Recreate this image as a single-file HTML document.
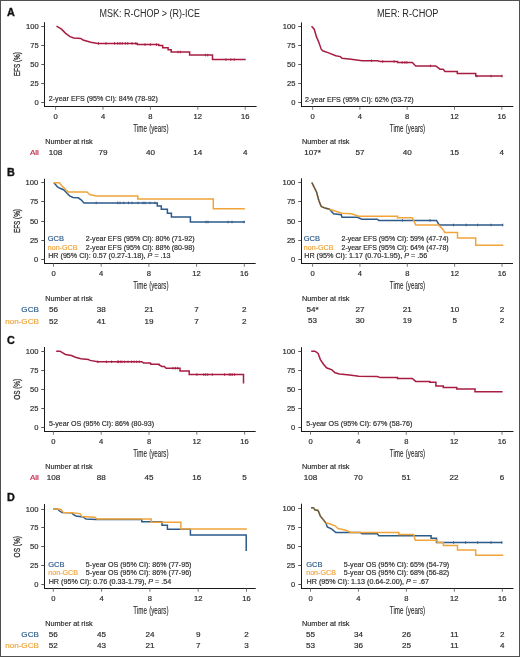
<!DOCTYPE html>
<html><head><meta charset="utf-8"><style>
html,body{margin:0;padding:0;background:#fff;}
body{width:520px;height:657px;overflow:hidden;position:relative;}
svg{position:absolute;left:0;top:0;font-family:"Liberation Sans", sans-serif;will-change:transform;}
</style></head><body>
<svg width="520" height="657" viewBox="0 0 520 657">
<rect x="0.5" y="0.5" width="519" height="656" fill="#fff" stroke="#505050" stroke-width="1"/>
<line x1="44.5" y1="22.2" x2="44.5" y2="107.0" stroke="#1a1a1a" stroke-width="1"/>
<line x1="41.3" y1="26.5" x2="44.5" y2="26.5" stroke="#444" stroke-width="0.9"/>
<text x="38.7" y="28.9" font-size="8.0" fill="#2a2a2a" text-anchor="end" textLength="12.7" lengthAdjust="spacingAndGlyphs" stroke="#2a2a2a" stroke-width="0.18">100</text>
<line x1="41.3" y1="45.5" x2="44.5" y2="45.5" stroke="#444" stroke-width="0.9"/>
<text x="38.7" y="47.9" font-size="8.0" fill="#2a2a2a" text-anchor="end" textLength="8.4" lengthAdjust="spacingAndGlyphs" stroke="#2a2a2a" stroke-width="0.18">75</text>
<line x1="41.3" y1="64.5" x2="44.5" y2="64.5" stroke="#444" stroke-width="0.9"/>
<text x="38.7" y="66.9" font-size="8.0" fill="#2a2a2a" text-anchor="end" textLength="8.4" lengthAdjust="spacingAndGlyphs" stroke="#2a2a2a" stroke-width="0.18">50</text>
<line x1="41.3" y1="83.5" x2="44.5" y2="83.5" stroke="#444" stroke-width="0.9"/>
<text x="38.7" y="85.9" font-size="8.0" fill="#2a2a2a" text-anchor="end" textLength="8.4" lengthAdjust="spacingAndGlyphs" stroke="#2a2a2a" stroke-width="0.18">25</text>
<line x1="41.3" y1="102.5" x2="44.5" y2="102.5" stroke="#444" stroke-width="0.9"/>
<text x="38.7" y="104.9" font-size="8.0" fill="#2a2a2a" text-anchor="end" textLength="4.2" lengthAdjust="spacingAndGlyphs" stroke="#2a2a2a" stroke-width="0.18">0</text>
<line x1="44.0" y1="106.5" x2="256.6" y2="106.5" stroke="#1a1a1a" stroke-width="1"/>
<line x1="55.6" y1="106.5" x2="55.6" y2="109.7" stroke="#666" stroke-width="0.9"/>
<text x="55.6" y="119.4" font-size="7.6" fill="#2a2a2a" text-anchor="middle" stroke="#2a2a2a" stroke-width="0.18">0</text>
<line x1="103.0" y1="106.5" x2="103.0" y2="109.7" stroke="#666" stroke-width="0.9"/>
<text x="103.0" y="119.4" font-size="7.6" fill="#2a2a2a" text-anchor="middle" stroke="#2a2a2a" stroke-width="0.18">4</text>
<line x1="150.4" y1="106.5" x2="150.4" y2="109.7" stroke="#666" stroke-width="0.9"/>
<text x="150.4" y="119.4" font-size="7.6" fill="#2a2a2a" text-anchor="middle" stroke="#2a2a2a" stroke-width="0.18">8</text>
<line x1="197.79999999999998" y1="106.5" x2="197.79999999999998" y2="109.7" stroke="#666" stroke-width="0.9"/>
<text x="197.79999999999998" y="119.4" font-size="7.6" fill="#2a2a2a" text-anchor="middle" stroke="#2a2a2a" stroke-width="0.18">12</text>
<line x1="245.2" y1="106.5" x2="245.2" y2="109.7" stroke="#666" stroke-width="0.9"/>
<text x="245.2" y="119.4" font-size="7.6" fill="#2a2a2a" text-anchor="middle" stroke="#2a2a2a" stroke-width="0.18">16</text>
<text x="150.9" y="132.1" font-size="10.0" fill="#2a2a2a" text-anchor="middle" textLength="35.3" lengthAdjust="spacingAndGlyphs" stroke="#2a2a2a" stroke-width="0.12" word-spacing="1">Time (years)</text>
<line x1="301.5" y1="22.4" x2="301.5" y2="107.0" stroke="#1a1a1a" stroke-width="1"/>
<line x1="298.3" y1="26.5" x2="301.5" y2="26.5" stroke="#444" stroke-width="0.9"/>
<text x="295.5" y="28.9" font-size="8.0" fill="#2a2a2a" text-anchor="end" textLength="12.7" lengthAdjust="spacingAndGlyphs" stroke="#2a2a2a" stroke-width="0.18">100</text>
<line x1="298.3" y1="45.5" x2="301.5" y2="45.5" stroke="#444" stroke-width="0.9"/>
<text x="295.5" y="47.9" font-size="8.0" fill="#2a2a2a" text-anchor="end" textLength="8.4" lengthAdjust="spacingAndGlyphs" stroke="#2a2a2a" stroke-width="0.18">75</text>
<line x1="298.3" y1="64.5" x2="301.5" y2="64.5" stroke="#444" stroke-width="0.9"/>
<text x="295.5" y="66.9" font-size="8.0" fill="#2a2a2a" text-anchor="end" textLength="8.4" lengthAdjust="spacingAndGlyphs" stroke="#2a2a2a" stroke-width="0.18">50</text>
<line x1="298.3" y1="83.5" x2="301.5" y2="83.5" stroke="#444" stroke-width="0.9"/>
<text x="295.5" y="85.9" font-size="8.0" fill="#2a2a2a" text-anchor="end" textLength="8.4" lengthAdjust="spacingAndGlyphs" stroke="#2a2a2a" stroke-width="0.18">25</text>
<line x1="298.3" y1="102.5" x2="301.5" y2="102.5" stroke="#444" stroke-width="0.9"/>
<text x="295.5" y="104.9" font-size="8.0" fill="#2a2a2a" text-anchor="end" textLength="4.2" lengthAdjust="spacingAndGlyphs" stroke="#2a2a2a" stroke-width="0.18">0</text>
<line x1="301.0" y1="106.5" x2="513.3" y2="106.5" stroke="#1a1a1a" stroke-width="1"/>
<line x1="312.6" y1="106.5" x2="312.6" y2="109.7" stroke="#666" stroke-width="0.9"/>
<text x="312.6" y="119.4" font-size="7.6" fill="#2a2a2a" text-anchor="middle" stroke="#2a2a2a" stroke-width="0.18">0</text>
<line x1="359.90000000000003" y1="106.5" x2="359.90000000000003" y2="109.7" stroke="#666" stroke-width="0.9"/>
<text x="359.90000000000003" y="119.4" font-size="7.6" fill="#2a2a2a" text-anchor="middle" stroke="#2a2a2a" stroke-width="0.18">4</text>
<line x1="407.20000000000005" y1="106.5" x2="407.20000000000005" y2="109.7" stroke="#666" stroke-width="0.9"/>
<text x="407.20000000000005" y="119.4" font-size="7.6" fill="#2a2a2a" text-anchor="middle" stroke="#2a2a2a" stroke-width="0.18">8</text>
<line x1="454.5" y1="106.5" x2="454.5" y2="109.7" stroke="#666" stroke-width="0.9"/>
<text x="454.5" y="119.4" font-size="7.6" fill="#2a2a2a" text-anchor="middle" stroke="#2a2a2a" stroke-width="0.18">12</text>
<line x1="501.8" y1="106.5" x2="501.8" y2="109.7" stroke="#666" stroke-width="0.9"/>
<text x="501.8" y="119.4" font-size="7.6" fill="#2a2a2a" text-anchor="middle" stroke="#2a2a2a" stroke-width="0.18">16</text>
<text x="407.5" y="132.20000000000002" font-size="10.0" fill="#2a2a2a" text-anchor="middle" textLength="35.3" lengthAdjust="spacingAndGlyphs" stroke="#2a2a2a" stroke-width="0.12" word-spacing="1">Time (years)</text>
<line x1="44.5" y1="178.75" x2="44.5" y2="264.0" stroke="#1a1a1a" stroke-width="1"/>
<line x1="41.3" y1="182.5" x2="44.5" y2="182.5" stroke="#444" stroke-width="0.9"/>
<text x="38.3" y="184.9" font-size="8.0" fill="#2a2a2a" text-anchor="end" textLength="12.7" lengthAdjust="spacingAndGlyphs" stroke="#2a2a2a" stroke-width="0.18">100</text>
<line x1="41.3" y1="201.5" x2="44.5" y2="201.5" stroke="#444" stroke-width="0.9"/>
<text x="38.3" y="203.9" font-size="8.0" fill="#2a2a2a" text-anchor="end" textLength="8.4" lengthAdjust="spacingAndGlyphs" stroke="#2a2a2a" stroke-width="0.18">75</text>
<line x1="41.3" y1="221.5" x2="44.5" y2="221.5" stroke="#444" stroke-width="0.9"/>
<text x="38.3" y="223.9" font-size="8.0" fill="#2a2a2a" text-anchor="end" textLength="8.4" lengthAdjust="spacingAndGlyphs" stroke="#2a2a2a" stroke-width="0.18">50</text>
<line x1="41.3" y1="240.5" x2="44.5" y2="240.5" stroke="#444" stroke-width="0.9"/>
<text x="38.3" y="242.9" font-size="8.0" fill="#2a2a2a" text-anchor="end" textLength="8.4" lengthAdjust="spacingAndGlyphs" stroke="#2a2a2a" stroke-width="0.18">25</text>
<line x1="41.3" y1="259.5" x2="44.5" y2="259.5" stroke="#444" stroke-width="0.9"/>
<text x="38.3" y="261.9" font-size="8.0" fill="#2a2a2a" text-anchor="end" textLength="4.2" lengthAdjust="spacingAndGlyphs" stroke="#2a2a2a" stroke-width="0.18">0</text>
<line x1="44.0" y1="263.5" x2="255.7" y2="263.5" stroke="#1a1a1a" stroke-width="1"/>
<line x1="53.5" y1="263.5" x2="53.5" y2="266.7" stroke="#666" stroke-width="0.9"/>
<text x="53.5" y="276.4" font-size="7.6" fill="#2a2a2a" text-anchor="middle" stroke="#2a2a2a" stroke-width="0.18">0</text>
<line x1="101.2" y1="263.5" x2="101.2" y2="266.7" stroke="#666" stroke-width="0.9"/>
<text x="101.2" y="276.4" font-size="7.6" fill="#2a2a2a" text-anchor="middle" stroke="#2a2a2a" stroke-width="0.18">4</text>
<line x1="148.9" y1="263.5" x2="148.9" y2="266.7" stroke="#666" stroke-width="0.9"/>
<text x="148.9" y="276.4" font-size="7.6" fill="#2a2a2a" text-anchor="middle" stroke="#2a2a2a" stroke-width="0.18">8</text>
<line x1="196.60000000000002" y1="263.5" x2="196.60000000000002" y2="266.7" stroke="#666" stroke-width="0.9"/>
<text x="196.60000000000002" y="276.4" font-size="7.6" fill="#2a2a2a" text-anchor="middle" stroke="#2a2a2a" stroke-width="0.18">12</text>
<line x1="244.3" y1="263.5" x2="244.3" y2="266.7" stroke="#666" stroke-width="0.9"/>
<text x="244.3" y="276.4" font-size="7.6" fill="#2a2a2a" text-anchor="middle" stroke="#2a2a2a" stroke-width="0.18">16</text>
<text x="150.9" y="289.2" font-size="10.0" fill="#2a2a2a" text-anchor="middle" textLength="35.3" lengthAdjust="spacingAndGlyphs" stroke="#2a2a2a" stroke-width="0.12" word-spacing="1">Time (years)</text>
<line x1="301.5" y1="178.3" x2="301.5" y2="264.0" stroke="#1a1a1a" stroke-width="1"/>
<line x1="298.3" y1="182.5" x2="301.5" y2="182.5" stroke="#444" stroke-width="0.9"/>
<text x="295.3" y="184.9" font-size="8.0" fill="#2a2a2a" text-anchor="end" textLength="12.7" lengthAdjust="spacingAndGlyphs" stroke="#2a2a2a" stroke-width="0.18">100</text>
<line x1="298.3" y1="201.5" x2="301.5" y2="201.5" stroke="#444" stroke-width="0.9"/>
<text x="295.3" y="203.9" font-size="8.0" fill="#2a2a2a" text-anchor="end" textLength="8.4" lengthAdjust="spacingAndGlyphs" stroke="#2a2a2a" stroke-width="0.18">75</text>
<line x1="298.3" y1="221.5" x2="301.5" y2="221.5" stroke="#444" stroke-width="0.9"/>
<text x="295.3" y="223.9" font-size="8.0" fill="#2a2a2a" text-anchor="end" textLength="8.4" lengthAdjust="spacingAndGlyphs" stroke="#2a2a2a" stroke-width="0.18">50</text>
<line x1="298.3" y1="240.5" x2="301.5" y2="240.5" stroke="#444" stroke-width="0.9"/>
<text x="295.3" y="242.9" font-size="8.0" fill="#2a2a2a" text-anchor="end" textLength="8.4" lengthAdjust="spacingAndGlyphs" stroke="#2a2a2a" stroke-width="0.18">25</text>
<line x1="298.3" y1="259.5" x2="301.5" y2="259.5" stroke="#444" stroke-width="0.9"/>
<text x="295.3" y="261.9" font-size="8.0" fill="#2a2a2a" text-anchor="end" textLength="4.2" lengthAdjust="spacingAndGlyphs" stroke="#2a2a2a" stroke-width="0.18">0</text>
<line x1="301.0" y1="263.5" x2="513" y2="263.5" stroke="#1a1a1a" stroke-width="1"/>
<line x1="312.6" y1="263.5" x2="312.6" y2="266.7" stroke="#666" stroke-width="0.9"/>
<text x="312.6" y="276.4" font-size="7.6" fill="#2a2a2a" text-anchor="middle" stroke="#2a2a2a" stroke-width="0.18">0</text>
<line x1="359.95000000000005" y1="263.5" x2="359.95000000000005" y2="266.7" stroke="#666" stroke-width="0.9"/>
<text x="359.95000000000005" y="276.4" font-size="7.6" fill="#2a2a2a" text-anchor="middle" stroke="#2a2a2a" stroke-width="0.18">4</text>
<line x1="407.3" y1="263.5" x2="407.3" y2="266.7" stroke="#666" stroke-width="0.9"/>
<text x="407.3" y="276.4" font-size="7.6" fill="#2a2a2a" text-anchor="middle" stroke="#2a2a2a" stroke-width="0.18">8</text>
<line x1="454.65" y1="263.5" x2="454.65" y2="266.7" stroke="#666" stroke-width="0.9"/>
<text x="454.65" y="276.4" font-size="7.6" fill="#2a2a2a" text-anchor="middle" stroke="#2a2a2a" stroke-width="0.18">12</text>
<line x1="502.0" y1="263.5" x2="502.0" y2="266.7" stroke="#666" stroke-width="0.9"/>
<text x="502.0" y="276.4" font-size="7.6" fill="#2a2a2a" text-anchor="middle" stroke="#2a2a2a" stroke-width="0.18">16</text>
<text x="407.5" y="289.1" font-size="10.0" fill="#2a2a2a" text-anchor="middle" textLength="35.3" lengthAdjust="spacingAndGlyphs" stroke="#2a2a2a" stroke-width="0.12" word-spacing="1">Time (years)</text>
<line x1="44.5" y1="347" x2="44.5" y2="432.0" stroke="#1a1a1a" stroke-width="1"/>
<line x1="41.3" y1="351.5" x2="44.5" y2="351.5" stroke="#444" stroke-width="0.9"/>
<text x="38.5" y="353.9" font-size="8.0" fill="#2a2a2a" text-anchor="end" textLength="12.7" lengthAdjust="spacingAndGlyphs" stroke="#2a2a2a" stroke-width="0.18">100</text>
<line x1="41.3" y1="370.5" x2="44.5" y2="370.5" stroke="#444" stroke-width="0.9"/>
<text x="38.5" y="372.9" font-size="8.0" fill="#2a2a2a" text-anchor="end" textLength="8.4" lengthAdjust="spacingAndGlyphs" stroke="#2a2a2a" stroke-width="0.18">75</text>
<line x1="41.3" y1="389.5" x2="44.5" y2="389.5" stroke="#444" stroke-width="0.9"/>
<text x="38.5" y="391.9" font-size="8.0" fill="#2a2a2a" text-anchor="end" textLength="8.4" lengthAdjust="spacingAndGlyphs" stroke="#2a2a2a" stroke-width="0.18">50</text>
<line x1="41.3" y1="408.5" x2="44.5" y2="408.5" stroke="#444" stroke-width="0.9"/>
<text x="38.5" y="410.9" font-size="8.0" fill="#2a2a2a" text-anchor="end" textLength="8.4" lengthAdjust="spacingAndGlyphs" stroke="#2a2a2a" stroke-width="0.18">25</text>
<line x1="41.3" y1="427.5" x2="44.5" y2="427.5" stroke="#444" stroke-width="0.9"/>
<text x="38.5" y="429.9" font-size="8.0" fill="#2a2a2a" text-anchor="end" textLength="4.2" lengthAdjust="spacingAndGlyphs" stroke="#2a2a2a" stroke-width="0.18">0</text>
<line x1="44.0" y1="431.5" x2="255.7" y2="431.5" stroke="#1a1a1a" stroke-width="1"/>
<line x1="53.4" y1="431.5" x2="53.4" y2="434.7" stroke="#666" stroke-width="0.9"/>
<text x="53.4" y="444.4" font-size="7.6" fill="#2a2a2a" text-anchor="middle" stroke="#2a2a2a" stroke-width="0.18">0</text>
<line x1="101.19999999999999" y1="431.5" x2="101.19999999999999" y2="434.7" stroke="#666" stroke-width="0.9"/>
<text x="101.19999999999999" y="444.4" font-size="7.6" fill="#2a2a2a" text-anchor="middle" stroke="#2a2a2a" stroke-width="0.18">4</text>
<line x1="149.0" y1="431.5" x2="149.0" y2="434.7" stroke="#666" stroke-width="0.9"/>
<text x="149.0" y="444.4" font-size="7.6" fill="#2a2a2a" text-anchor="middle" stroke="#2a2a2a" stroke-width="0.18">8</text>
<line x1="196.79999999999998" y1="431.5" x2="196.79999999999998" y2="434.7" stroke="#666" stroke-width="0.9"/>
<text x="196.79999999999998" y="444.4" font-size="7.6" fill="#2a2a2a" text-anchor="middle" stroke="#2a2a2a" stroke-width="0.18">12</text>
<line x1="244.6" y1="431.5" x2="244.6" y2="434.7" stroke="#666" stroke-width="0.9"/>
<text x="244.6" y="444.4" font-size="7.6" fill="#2a2a2a" text-anchor="middle" stroke="#2a2a2a" stroke-width="0.18">16</text>
<text x="150.9" y="457.1" font-size="10.0" fill="#2a2a2a" text-anchor="middle" textLength="35.3" lengthAdjust="spacingAndGlyphs" stroke="#2a2a2a" stroke-width="0.12" word-spacing="1">Time (years)</text>
<line x1="301.5" y1="347.2" x2="301.5" y2="432.0" stroke="#1a1a1a" stroke-width="1"/>
<line x1="298.3" y1="351.5" x2="301.5" y2="351.5" stroke="#444" stroke-width="0.9"/>
<text x="295.3" y="353.9" font-size="8.0" fill="#2a2a2a" text-anchor="end" textLength="12.7" lengthAdjust="spacingAndGlyphs" stroke="#2a2a2a" stroke-width="0.18">100</text>
<line x1="298.3" y1="370.5" x2="301.5" y2="370.5" stroke="#444" stroke-width="0.9"/>
<text x="295.3" y="372.9" font-size="8.0" fill="#2a2a2a" text-anchor="end" textLength="8.4" lengthAdjust="spacingAndGlyphs" stroke="#2a2a2a" stroke-width="0.18">75</text>
<line x1="298.3" y1="389.5" x2="301.5" y2="389.5" stroke="#444" stroke-width="0.9"/>
<text x="295.3" y="391.9" font-size="8.0" fill="#2a2a2a" text-anchor="end" textLength="8.4" lengthAdjust="spacingAndGlyphs" stroke="#2a2a2a" stroke-width="0.18">50</text>
<line x1="298.3" y1="408.5" x2="301.5" y2="408.5" stroke="#444" stroke-width="0.9"/>
<text x="295.3" y="410.9" font-size="8.0" fill="#2a2a2a" text-anchor="end" textLength="8.4" lengthAdjust="spacingAndGlyphs" stroke="#2a2a2a" stroke-width="0.18">25</text>
<line x1="298.3" y1="427.5" x2="301.5" y2="427.5" stroke="#444" stroke-width="0.9"/>
<text x="295.3" y="429.9" font-size="8.0" fill="#2a2a2a" text-anchor="end" textLength="4.2" lengthAdjust="spacingAndGlyphs" stroke="#2a2a2a" stroke-width="0.18">0</text>
<line x1="301.0" y1="431.5" x2="513.5" y2="431.5" stroke="#1a1a1a" stroke-width="1"/>
<line x1="310.5" y1="431.5" x2="310.5" y2="434.7" stroke="#666" stroke-width="0.9"/>
<text x="310.5" y="444.4" font-size="7.6" fill="#2a2a2a" text-anchor="middle" stroke="#2a2a2a" stroke-width="0.18">0</text>
<line x1="358.375" y1="431.5" x2="358.375" y2="434.7" stroke="#666" stroke-width="0.9"/>
<text x="358.375" y="444.4" font-size="7.6" fill="#2a2a2a" text-anchor="middle" stroke="#2a2a2a" stroke-width="0.18">4</text>
<line x1="406.25" y1="431.5" x2="406.25" y2="434.7" stroke="#666" stroke-width="0.9"/>
<text x="406.25" y="444.4" font-size="7.6" fill="#2a2a2a" text-anchor="middle" stroke="#2a2a2a" stroke-width="0.18">8</text>
<line x1="454.125" y1="431.5" x2="454.125" y2="434.7" stroke="#666" stroke-width="0.9"/>
<text x="454.125" y="444.4" font-size="7.6" fill="#2a2a2a" text-anchor="middle" stroke="#2a2a2a" stroke-width="0.18">12</text>
<line x1="502.0" y1="431.5" x2="502.0" y2="434.7" stroke="#666" stroke-width="0.9"/>
<text x="502.0" y="444.4" font-size="7.6" fill="#2a2a2a" text-anchor="middle" stroke="#2a2a2a" stroke-width="0.18">16</text>
<text x="407.5" y="457.1" font-size="10.0" fill="#2a2a2a" text-anchor="middle" textLength="35.3" lengthAdjust="spacingAndGlyphs" stroke="#2a2a2a" stroke-width="0.12" word-spacing="1">Time (years)</text>
<line x1="44.5" y1="504" x2="44.5" y2="589.0" stroke="#1a1a1a" stroke-width="1"/>
<line x1="41.3" y1="509.5" x2="44.5" y2="509.5" stroke="#444" stroke-width="0.9"/>
<text x="38.5" y="511.9" font-size="8.0" fill="#2a2a2a" text-anchor="end" textLength="12.7" lengthAdjust="spacingAndGlyphs" stroke="#2a2a2a" stroke-width="0.18">100</text>
<line x1="41.3" y1="527.5" x2="44.5" y2="527.5" stroke="#444" stroke-width="0.9"/>
<text x="38.5" y="529.9" font-size="8.0" fill="#2a2a2a" text-anchor="end" textLength="8.4" lengthAdjust="spacingAndGlyphs" stroke="#2a2a2a" stroke-width="0.18">75</text>
<line x1="41.3" y1="546.5" x2="44.5" y2="546.5" stroke="#444" stroke-width="0.9"/>
<text x="38.5" y="548.9" font-size="8.0" fill="#2a2a2a" text-anchor="end" textLength="8.4" lengthAdjust="spacingAndGlyphs" stroke="#2a2a2a" stroke-width="0.18">50</text>
<line x1="41.3" y1="565.5" x2="44.5" y2="565.5" stroke="#444" stroke-width="0.9"/>
<text x="38.5" y="567.9" font-size="8.0" fill="#2a2a2a" text-anchor="end" textLength="8.4" lengthAdjust="spacingAndGlyphs" stroke="#2a2a2a" stroke-width="0.18">25</text>
<line x1="41.3" y1="584.5" x2="44.5" y2="584.5" stroke="#444" stroke-width="0.9"/>
<text x="38.5" y="586.9" font-size="8.0" fill="#2a2a2a" text-anchor="end" textLength="4.2" lengthAdjust="spacingAndGlyphs" stroke="#2a2a2a" stroke-width="0.18">0</text>
<line x1="44.0" y1="588.5" x2="255.7" y2="588.5" stroke="#1a1a1a" stroke-width="1"/>
<line x1="53.3" y1="588.5" x2="53.3" y2="591.7" stroke="#666" stroke-width="0.9"/>
<text x="53.3" y="601.4" font-size="7.6" fill="#2a2a2a" text-anchor="middle" stroke="#2a2a2a" stroke-width="0.18">0</text>
<line x1="101.6" y1="588.5" x2="101.6" y2="591.7" stroke="#666" stroke-width="0.9"/>
<text x="101.6" y="601.4" font-size="7.6" fill="#2a2a2a" text-anchor="middle" stroke="#2a2a2a" stroke-width="0.18">4</text>
<line x1="149.89999999999998" y1="588.5" x2="149.89999999999998" y2="591.7" stroke="#666" stroke-width="0.9"/>
<text x="149.89999999999998" y="601.4" font-size="7.6" fill="#2a2a2a" text-anchor="middle" stroke="#2a2a2a" stroke-width="0.18">8</text>
<line x1="198.2" y1="588.5" x2="198.2" y2="591.7" stroke="#666" stroke-width="0.9"/>
<text x="198.2" y="601.4" font-size="7.6" fill="#2a2a2a" text-anchor="middle" stroke="#2a2a2a" stroke-width="0.18">12</text>
<line x1="246.5" y1="588.5" x2="246.5" y2="591.7" stroke="#666" stroke-width="0.9"/>
<text x="246.5" y="601.4" font-size="7.6" fill="#2a2a2a" text-anchor="middle" stroke="#2a2a2a" stroke-width="0.18">16</text>
<text x="150.9" y="614.0" font-size="10.0" fill="#2a2a2a" text-anchor="middle" textLength="35.3" lengthAdjust="spacingAndGlyphs" stroke="#2a2a2a" stroke-width="0.12" word-spacing="1">Time (years)</text>
<line x1="301.5" y1="503.7" x2="301.5" y2="589.0" stroke="#1a1a1a" stroke-width="1"/>
<line x1="298.3" y1="508.5" x2="301.5" y2="508.5" stroke="#444" stroke-width="0.9"/>
<text x="295.2" y="510.9" font-size="8.0" fill="#2a2a2a" text-anchor="end" textLength="12.7" lengthAdjust="spacingAndGlyphs" stroke="#2a2a2a" stroke-width="0.18">100</text>
<line x1="298.3" y1="527.5" x2="301.5" y2="527.5" stroke="#444" stroke-width="0.9"/>
<text x="295.2" y="529.9" font-size="8.0" fill="#2a2a2a" text-anchor="end" textLength="8.4" lengthAdjust="spacingAndGlyphs" stroke="#2a2a2a" stroke-width="0.18">75</text>
<line x1="298.3" y1="546.5" x2="301.5" y2="546.5" stroke="#444" stroke-width="0.9"/>
<text x="295.2" y="548.9" font-size="8.0" fill="#2a2a2a" text-anchor="end" textLength="8.4" lengthAdjust="spacingAndGlyphs" stroke="#2a2a2a" stroke-width="0.18">50</text>
<line x1="298.3" y1="565.5" x2="301.5" y2="565.5" stroke="#444" stroke-width="0.9"/>
<text x="295.2" y="567.9" font-size="8.0" fill="#2a2a2a" text-anchor="end" textLength="8.4" lengthAdjust="spacingAndGlyphs" stroke="#2a2a2a" stroke-width="0.18">25</text>
<line x1="298.3" y1="584.5" x2="301.5" y2="584.5" stroke="#444" stroke-width="0.9"/>
<text x="295.2" y="586.9" font-size="8.0" fill="#2a2a2a" text-anchor="end" textLength="4.2" lengthAdjust="spacingAndGlyphs" stroke="#2a2a2a" stroke-width="0.18">0</text>
<line x1="301.0" y1="588.5" x2="513.5" y2="588.5" stroke="#1a1a1a" stroke-width="1"/>
<line x1="310.5" y1="588.5" x2="310.5" y2="591.7" stroke="#666" stroke-width="0.9"/>
<text x="310.5" y="601.4" font-size="7.6" fill="#2a2a2a" text-anchor="middle" stroke="#2a2a2a" stroke-width="0.18">0</text>
<line x1="358.45" y1="588.5" x2="358.45" y2="591.7" stroke="#666" stroke-width="0.9"/>
<text x="358.45" y="601.4" font-size="7.6" fill="#2a2a2a" text-anchor="middle" stroke="#2a2a2a" stroke-width="0.18">4</text>
<line x1="406.4" y1="588.5" x2="406.4" y2="591.7" stroke="#666" stroke-width="0.9"/>
<text x="406.4" y="601.4" font-size="7.6" fill="#2a2a2a" text-anchor="middle" stroke="#2a2a2a" stroke-width="0.18">8</text>
<line x1="454.35" y1="588.5" x2="454.35" y2="591.7" stroke="#666" stroke-width="0.9"/>
<text x="454.35" y="601.4" font-size="7.6" fill="#2a2a2a" text-anchor="middle" stroke="#2a2a2a" stroke-width="0.18">12</text>
<line x1="502.3" y1="588.5" x2="502.3" y2="591.7" stroke="#666" stroke-width="0.9"/>
<text x="502.3" y="601.4" font-size="7.6" fill="#2a2a2a" text-anchor="middle" stroke="#2a2a2a" stroke-width="0.18">16</text>
<text x="407.5" y="614.0" font-size="10.0" fill="#2a2a2a" text-anchor="middle" textLength="35.3" lengthAdjust="spacingAndGlyphs" stroke="#2a2a2a" stroke-width="0.12" word-spacing="1">Time (years)</text>
<text x="99.5" y="17.0" font-size="10" fill="#2a2a2a" text-anchor="start" textLength="100.5" lengthAdjust="spacingAndGlyphs" stroke="none">MSK: R-CHOP &gt; (R)-ICE</text>
<text x="376.9" y="16.9" font-size="10" fill="#2a2a2a" text-anchor="start" textLength="61.6" lengthAdjust="spacingAndGlyphs" stroke="none">MER: R-CHOP</text>
<text x="7.0" y="15.8" font-size="10.8" fill="#111" text-anchor="start" font-weight="bold" stroke="#111" stroke-width="0.35">A</text>
<text x="7.0" y="175.6" font-size="10.8" fill="#111" text-anchor="start" font-weight="bold" stroke="#111" stroke-width="0.35">B</text>
<text x="7.0" y="343.7" font-size="10.8" fill="#111" text-anchor="start" font-weight="bold" stroke="#111" stroke-width="0.35">C</text>
<text x="7.0" y="500.8" font-size="10.8" fill="#111" text-anchor="start" font-weight="bold" stroke="#111" stroke-width="0.35">D</text>
<text x="0" y="0" font-size="9.8" fill="#2a2a2a" text-anchor="middle" textLength="24" lengthAdjust="spacingAndGlyphs" stroke="#2a2a2a" stroke-width="0.3" transform="translate(20.2,64.2) rotate(-90)">EFS (%)</text>
<text x="0" y="0" font-size="9.8" fill="#2a2a2a" text-anchor="middle" textLength="24" lengthAdjust="spacingAndGlyphs" stroke="#2a2a2a" stroke-width="0.3" transform="translate(20.2,221.1) rotate(-90)">EFS (%)</text>
<text x="0" y="0" font-size="9.8" fill="#2a2a2a" text-anchor="middle" textLength="21" lengthAdjust="spacingAndGlyphs" stroke="#2a2a2a" stroke-width="0.3" transform="translate(20.2,389.3) rotate(-90)">OS (%)</text>
<text x="0" y="0" font-size="9.8" fill="#2a2a2a" text-anchor="middle" textLength="21.5" lengthAdjust="spacingAndGlyphs" stroke="#2a2a2a" stroke-width="0.3" transform="translate(20.2,546.7) rotate(-90)">OS (%)</text>
<text x="45.2" y="143.9" font-size="7.6" fill="#2a2a2a" text-anchor="start" textLength="47.5" lengthAdjust="spacingAndGlyphs" stroke="#2a2a2a" stroke-width="0.18">Number at risk</text>
<text x="38.9" y="155.2" font-size="8.1" fill="#c0284a" text-anchor="end" stroke="#c0284a" stroke-width="0.18">All</text>
<text x="55.6" y="155.2" font-size="8.1" fill="#2a2a2a" text-anchor="middle" stroke="#2a2a2a" stroke-width="0.18">108</text>
<text x="103.0" y="155.2" font-size="8.1" fill="#2a2a2a" text-anchor="middle" stroke="#2a2a2a" stroke-width="0.18">79</text>
<text x="150.4" y="155.2" font-size="8.1" fill="#2a2a2a" text-anchor="middle" stroke="#2a2a2a" stroke-width="0.18">40</text>
<text x="197.79999999999998" y="155.2" font-size="8.1" fill="#2a2a2a" text-anchor="middle" stroke="#2a2a2a" stroke-width="0.18">14</text>
<text x="245.2" y="155.2" font-size="8.1" fill="#2a2a2a" text-anchor="middle" stroke="#2a2a2a" stroke-width="0.18">4</text>
<text x="302" y="144.0" font-size="7.6" fill="#2a2a2a" text-anchor="start" textLength="47.5" lengthAdjust="spacingAndGlyphs" stroke="#2a2a2a" stroke-width="0.18">Number at risk</text>
<text x="312.6" y="155.3" font-size="8.1" fill="#2a2a2a" text-anchor="middle" stroke="#2a2a2a" stroke-width="0.18">107*</text>
<text x="359.90000000000003" y="155.3" font-size="8.1" fill="#2a2a2a" text-anchor="middle" stroke="#2a2a2a" stroke-width="0.18">57</text>
<text x="407.20000000000005" y="155.3" font-size="8.1" fill="#2a2a2a" text-anchor="middle" stroke="#2a2a2a" stroke-width="0.18">40</text>
<text x="454.5" y="155.3" font-size="8.1" fill="#2a2a2a" text-anchor="middle" stroke="#2a2a2a" stroke-width="0.18">15</text>
<text x="501.8" y="155.3" font-size="8.1" fill="#2a2a2a" text-anchor="middle" stroke="#2a2a2a" stroke-width="0.18">4</text>
<text x="45.2" y="301.0" font-size="7.6" fill="#2a2a2a" text-anchor="start" textLength="47.5" lengthAdjust="spacingAndGlyphs" stroke="#2a2a2a" stroke-width="0.18">Number at risk</text>
<text x="38.9" y="312.29999999999995" font-size="8.1" fill="#2c5a8a" text-anchor="end" stroke="#2c5a8a" stroke-width="0.18">GCB</text>
<text x="53.5" y="312.29999999999995" font-size="8.1" fill="#2a2a2a" text-anchor="middle" stroke="#2a2a2a" stroke-width="0.18">56</text>
<text x="101.2" y="312.29999999999995" font-size="8.1" fill="#2a2a2a" text-anchor="middle" stroke="#2a2a2a" stroke-width="0.18">38</text>
<text x="148.9" y="312.29999999999995" font-size="8.1" fill="#2a2a2a" text-anchor="middle" stroke="#2a2a2a" stroke-width="0.18">21</text>
<text x="196.60000000000002" y="312.29999999999995" font-size="8.1" fill="#2a2a2a" text-anchor="middle" stroke="#2a2a2a" stroke-width="0.18">7</text>
<text x="244.3" y="312.29999999999995" font-size="8.1" fill="#2a2a2a" text-anchor="middle" stroke="#2a2a2a" stroke-width="0.18">2</text>
<text x="38.9" y="323.49999999999994" font-size="8.1" fill="#f0a43a" text-anchor="end" stroke="#f0a43a" stroke-width="0.18">non-GCB</text>
<text x="53.5" y="323.49999999999994" font-size="8.1" fill="#2a2a2a" text-anchor="middle" stroke="#2a2a2a" stroke-width="0.18">52</text>
<text x="101.2" y="323.49999999999994" font-size="8.1" fill="#2a2a2a" text-anchor="middle" stroke="#2a2a2a" stroke-width="0.18">41</text>
<text x="148.9" y="323.49999999999994" font-size="8.1" fill="#2a2a2a" text-anchor="middle" stroke="#2a2a2a" stroke-width="0.18">19</text>
<text x="196.60000000000002" y="323.49999999999994" font-size="8.1" fill="#2a2a2a" text-anchor="middle" stroke="#2a2a2a" stroke-width="0.18">7</text>
<text x="244.3" y="323.49999999999994" font-size="8.1" fill="#2a2a2a" text-anchor="middle" stroke="#2a2a2a" stroke-width="0.18">2</text>
<text x="302" y="300.90000000000003" font-size="7.6" fill="#2a2a2a" text-anchor="start" textLength="47.5" lengthAdjust="spacingAndGlyphs" stroke="#2a2a2a" stroke-width="0.18">Number at risk</text>
<text x="312.6" y="312.2" font-size="8.1" fill="#2a2a2a" text-anchor="middle" stroke="#2a2a2a" stroke-width="0.18">54*</text>
<text x="359.95000000000005" y="312.2" font-size="8.1" fill="#2a2a2a" text-anchor="middle" stroke="#2a2a2a" stroke-width="0.18">27</text>
<text x="407.3" y="312.2" font-size="8.1" fill="#2a2a2a" text-anchor="middle" stroke="#2a2a2a" stroke-width="0.18">21</text>
<text x="454.65" y="312.2" font-size="8.1" fill="#2a2a2a" text-anchor="middle" stroke="#2a2a2a" stroke-width="0.18">10</text>
<text x="502.0" y="312.2" font-size="8.1" fill="#2a2a2a" text-anchor="middle" stroke="#2a2a2a" stroke-width="0.18">2</text>
<text x="312.6" y="323.4" font-size="8.1" fill="#2a2a2a" text-anchor="middle" stroke="#2a2a2a" stroke-width="0.18">53</text>
<text x="359.95000000000005" y="323.4" font-size="8.1" fill="#2a2a2a" text-anchor="middle" stroke="#2a2a2a" stroke-width="0.18">30</text>
<text x="407.3" y="323.4" font-size="8.1" fill="#2a2a2a" text-anchor="middle" stroke="#2a2a2a" stroke-width="0.18">19</text>
<text x="454.65" y="323.4" font-size="8.1" fill="#2a2a2a" text-anchor="middle" stroke="#2a2a2a" stroke-width="0.18">5</text>
<text x="502.0" y="323.4" font-size="8.1" fill="#2a2a2a" text-anchor="middle" stroke="#2a2a2a" stroke-width="0.18">2</text>
<text x="45.2" y="468.90000000000003" font-size="7.6" fill="#2a2a2a" text-anchor="start" textLength="47.5" lengthAdjust="spacingAndGlyphs" stroke="#2a2a2a" stroke-width="0.18">Number at risk</text>
<text x="38.9" y="480.2" font-size="8.1" fill="#c0284a" text-anchor="end" stroke="#c0284a" stroke-width="0.18">All</text>
<text x="53.4" y="480.2" font-size="8.1" fill="#2a2a2a" text-anchor="middle" stroke="#2a2a2a" stroke-width="0.18">108</text>
<text x="101.19999999999999" y="480.2" font-size="8.1" fill="#2a2a2a" text-anchor="middle" stroke="#2a2a2a" stroke-width="0.18">88</text>
<text x="149.0" y="480.2" font-size="8.1" fill="#2a2a2a" text-anchor="middle" stroke="#2a2a2a" stroke-width="0.18">45</text>
<text x="196.79999999999998" y="480.2" font-size="8.1" fill="#2a2a2a" text-anchor="middle" stroke="#2a2a2a" stroke-width="0.18">16</text>
<text x="244.6" y="480.2" font-size="8.1" fill="#2a2a2a" text-anchor="middle" stroke="#2a2a2a" stroke-width="0.18">5</text>
<text x="302" y="468.90000000000003" font-size="7.6" fill="#2a2a2a" text-anchor="start" textLength="47.5" lengthAdjust="spacingAndGlyphs" stroke="#2a2a2a" stroke-width="0.18">Number at risk</text>
<text x="310.5" y="480.2" font-size="8.1" fill="#2a2a2a" text-anchor="middle" stroke="#2a2a2a" stroke-width="0.18">108</text>
<text x="358.375" y="480.2" font-size="8.1" fill="#2a2a2a" text-anchor="middle" stroke="#2a2a2a" stroke-width="0.18">70</text>
<text x="406.25" y="480.2" font-size="8.1" fill="#2a2a2a" text-anchor="middle" stroke="#2a2a2a" stroke-width="0.18">51</text>
<text x="454.125" y="480.2" font-size="8.1" fill="#2a2a2a" text-anchor="middle" stroke="#2a2a2a" stroke-width="0.18">22</text>
<text x="502.0" y="480.2" font-size="8.1" fill="#2a2a2a" text-anchor="middle" stroke="#2a2a2a" stroke-width="0.18">6</text>
<text x="45.2" y="625.8000000000001" font-size="7.6" fill="#2a2a2a" text-anchor="start" textLength="47.5" lengthAdjust="spacingAndGlyphs" stroke="#2a2a2a" stroke-width="0.18">Number at risk</text>
<text x="38.9" y="637.1" font-size="8.1" fill="#2c5a8a" text-anchor="end" stroke="#2c5a8a" stroke-width="0.18">GCB</text>
<text x="53.3" y="637.1" font-size="8.1" fill="#2a2a2a" text-anchor="middle" stroke="#2a2a2a" stroke-width="0.18">56</text>
<text x="101.6" y="637.1" font-size="8.1" fill="#2a2a2a" text-anchor="middle" stroke="#2a2a2a" stroke-width="0.18">45</text>
<text x="149.89999999999998" y="637.1" font-size="8.1" fill="#2a2a2a" text-anchor="middle" stroke="#2a2a2a" stroke-width="0.18">24</text>
<text x="198.2" y="637.1" font-size="8.1" fill="#2a2a2a" text-anchor="middle" stroke="#2a2a2a" stroke-width="0.18">9</text>
<text x="246.5" y="637.1" font-size="8.1" fill="#2a2a2a" text-anchor="middle" stroke="#2a2a2a" stroke-width="0.18">2</text>
<text x="38.9" y="648.3000000000001" font-size="8.1" fill="#f0a43a" text-anchor="end" stroke="#f0a43a" stroke-width="0.18">non-GCB</text>
<text x="53.3" y="648.3000000000001" font-size="8.1" fill="#2a2a2a" text-anchor="middle" stroke="#2a2a2a" stroke-width="0.18">52</text>
<text x="101.6" y="648.3000000000001" font-size="8.1" fill="#2a2a2a" text-anchor="middle" stroke="#2a2a2a" stroke-width="0.18">43</text>
<text x="149.89999999999998" y="648.3000000000001" font-size="8.1" fill="#2a2a2a" text-anchor="middle" stroke="#2a2a2a" stroke-width="0.18">21</text>
<text x="198.2" y="648.3000000000001" font-size="8.1" fill="#2a2a2a" text-anchor="middle" stroke="#2a2a2a" stroke-width="0.18">7</text>
<text x="246.5" y="648.3000000000001" font-size="8.1" fill="#2a2a2a" text-anchor="middle" stroke="#2a2a2a" stroke-width="0.18">3</text>
<text x="302" y="625.8000000000001" font-size="7.6" fill="#2a2a2a" text-anchor="start" textLength="47.5" lengthAdjust="spacingAndGlyphs" stroke="#2a2a2a" stroke-width="0.18">Number at risk</text>
<text x="310.5" y="637.1" font-size="8.1" fill="#2a2a2a" text-anchor="middle" stroke="#2a2a2a" stroke-width="0.18">55</text>
<text x="358.45" y="637.1" font-size="8.1" fill="#2a2a2a" text-anchor="middle" stroke="#2a2a2a" stroke-width="0.18">34</text>
<text x="406.4" y="637.1" font-size="8.1" fill="#2a2a2a" text-anchor="middle" stroke="#2a2a2a" stroke-width="0.18">26</text>
<text x="454.35" y="637.1" font-size="8.1" fill="#2a2a2a" text-anchor="middle" stroke="#2a2a2a" stroke-width="0.18">11</text>
<text x="502.3" y="637.1" font-size="8.1" fill="#2a2a2a" text-anchor="middle" stroke="#2a2a2a" stroke-width="0.18">2</text>
<text x="310.5" y="648.3000000000001" font-size="8.1" fill="#2a2a2a" text-anchor="middle" stroke="#2a2a2a" stroke-width="0.18">53</text>
<text x="358.45" y="648.3000000000001" font-size="8.1" fill="#2a2a2a" text-anchor="middle" stroke="#2a2a2a" stroke-width="0.18">36</text>
<text x="406.4" y="648.3000000000001" font-size="8.1" fill="#2a2a2a" text-anchor="middle" stroke="#2a2a2a" stroke-width="0.18">25</text>
<text x="454.35" y="648.3000000000001" font-size="8.1" fill="#2a2a2a" text-anchor="middle" stroke="#2a2a2a" stroke-width="0.18">11</text>
<text x="502.3" y="648.3000000000001" font-size="8.1" fill="#2a2a2a" text-anchor="middle" stroke="#2a2a2a" stroke-width="0.18">4</text>
<text x="48.75" y="101.0" font-size="7.8" fill="#2a2a2a" text-anchor="start" textLength="109.2" lengthAdjust="spacingAndGlyphs" stroke="#2a2a2a" stroke-width="0.18">2-year EFS (95% CI): 84% (78-92)</text>
<text x="305.0" y="101.5" font-size="7.8" fill="#2a2a2a" text-anchor="start" textLength="108.7" lengthAdjust="spacingAndGlyphs" stroke="#2a2a2a" stroke-width="0.18">2-year EFS (95% CI): 62% (53-72)</text>
<text x="49.0" y="425.7" font-size="7.8" fill="#2a2a2a" text-anchor="start" textLength="105" lengthAdjust="spacingAndGlyphs" stroke="#2a2a2a" stroke-width="0.18">5-year OS (95% CI): 86% (80-93)</text>
<text x="306.2" y="425.7" font-size="7.8" fill="#2a2a2a" text-anchor="start" textLength="106.2" lengthAdjust="spacingAndGlyphs" stroke="#2a2a2a" stroke-width="0.18">5-year OS (95% CI): 67% (58-76)</text>
<text x="47.8" y="241.0" font-size="7.8" fill="#2c5a8a" text-anchor="start" textLength="16.2" lengthAdjust="spacingAndGlyphs" stroke="#2c5a8a" stroke-width="0.18">GCB</text>
<text x="47.8" y="249.6" font-size="7.8" fill="#f0a43a" text-anchor="start" textLength="29.7" lengthAdjust="spacingAndGlyphs" stroke="#f0a43a" stroke-width="0.18">non-GCB</text>
<text x="85.8" y="241.0" font-size="7.8" fill="#2a2a2a" text-anchor="start" textLength="108.8" lengthAdjust="spacingAndGlyphs" stroke="#2a2a2a" stroke-width="0.18">2-year EFS (95% CI): 80% (71-92)</text>
<text x="85.8" y="249.6" font-size="7.8" fill="#2a2a2a" text-anchor="start" textLength="108.8" lengthAdjust="spacingAndGlyphs" stroke="#2a2a2a" stroke-width="0.18">2-year EFS (95% CI): 88% (80-98)</text>
<text x="48.199999999999996" y="258.3" font-size="7.8" fill="#2a2a2a" stroke="#2a2a2a" stroke-width="0.18" textLength="122.3" lengthAdjust="spacingAndGlyphs">HR (95% CI): 0.57 (0.27-1.18), <tspan font-style="italic">P</tspan> = .13</text>
<text x="303.8" y="241.0" font-size="7.8" fill="#2c5a8a" text-anchor="start" textLength="16.2" lengthAdjust="spacingAndGlyphs" stroke="#2c5a8a" stroke-width="0.18">GCB</text>
<text x="303.8" y="249.6" font-size="7.8" fill="#f0a43a" text-anchor="start" textLength="29.7" lengthAdjust="spacingAndGlyphs" stroke="#f0a43a" stroke-width="0.18">non-GCB</text>
<text x="341.5" y="241.0" font-size="7.8" fill="#2a2a2a" text-anchor="start" textLength="107.19999999999999" lengthAdjust="spacingAndGlyphs" stroke="#2a2a2a" stroke-width="0.18">2-year EFS (95% CI): 59% (47-74)</text>
<text x="341.5" y="249.6" font-size="7.8" fill="#2a2a2a" text-anchor="start" textLength="107.19999999999999" lengthAdjust="spacingAndGlyphs" stroke="#2a2a2a" stroke-width="0.18">2-year EFS (95% CI): 64% (47-78)</text>
<text x="304.2" y="258.3" font-size="7.8" fill="#2a2a2a" stroke="#2a2a2a" stroke-width="0.18" textLength="122.99999999999997" lengthAdjust="spacingAndGlyphs">HR (95% CI): 1.17 (0.70-1.95), <tspan font-style="italic">P</tspan> = .56</text>
<text x="48.3" y="566.5" font-size="7.8" fill="#2c5a8a" text-anchor="start" textLength="16.2" lengthAdjust="spacingAndGlyphs" stroke="#2c5a8a" stroke-width="0.18">GCB</text>
<text x="48.3" y="575.1" font-size="7.8" fill="#f0a43a" text-anchor="start" textLength="29.7" lengthAdjust="spacingAndGlyphs" stroke="#f0a43a" stroke-width="0.18">non-GCB</text>
<text x="85.8" y="566.5" font-size="7.8" fill="#2a2a2a" text-anchor="start" textLength="105.7" lengthAdjust="spacingAndGlyphs" stroke="#2a2a2a" stroke-width="0.18">5-year OS (95% CI): 86% (77-95)</text>
<text x="85.8" y="575.1" font-size="7.8" fill="#2a2a2a" text-anchor="start" textLength="105.7" lengthAdjust="spacingAndGlyphs" stroke="#2a2a2a" stroke-width="0.18">5-year OS (95% CI): 86% (77-96)</text>
<text x="48.699999999999996" y="583.8" font-size="7.8" fill="#2a2a2a" stroke="#2a2a2a" stroke-width="0.18" textLength="122.49999999999999" lengthAdjust="spacingAndGlyphs">HR (95% CI): 0.76 (0.33-1.79), <tspan font-style="italic">P</tspan> = .54</text>
<text x="306.2" y="566.5" font-size="7.8" fill="#2c5a8a" text-anchor="start" textLength="16.2" lengthAdjust="spacingAndGlyphs" stroke="#2c5a8a" stroke-width="0.18">GCB</text>
<text x="306.2" y="575.1" font-size="7.8" fill="#f0a43a" text-anchor="start" textLength="29.7" lengthAdjust="spacingAndGlyphs" stroke="#f0a43a" stroke-width="0.18">non-GCB</text>
<text x="343.8" y="566.5" font-size="7.8" fill="#2a2a2a" text-anchor="start" textLength="105.39999999999998" lengthAdjust="spacingAndGlyphs" stroke="#2a2a2a" stroke-width="0.18">5-year OS (95% CI): 65% (54-79)</text>
<text x="343.8" y="575.1" font-size="7.8" fill="#2a2a2a" text-anchor="start" textLength="105.39999999999998" lengthAdjust="spacingAndGlyphs" stroke="#2a2a2a" stroke-width="0.18">5-year OS (95% CI): 68% (56-82)</text>
<text x="306.59999999999997" y="583.8" font-size="7.8" fill="#2a2a2a" stroke="#2a2a2a" stroke-width="0.18" textLength="122.29999999999998" lengthAdjust="spacingAndGlyphs">HR (95% CI): 1.13 (0.64-2.00), <tspan font-style="italic">P</tspan> = .67</text>
<path d="M56.5,26.2 L61.5,29.2 L65.4,33.1 L70.0,36.6 L73.8,38.0 L80.8,38.5 L83.0,40.0 L90.8,42.3 L97.7,43.4 L137.3,43.4 L137.3,44.6 L158.8,44.6 L158.8,45.4 L162.7,45.4 L162.7,47.7 L168.1,47.7 L168.1,49.7 L171.2,49.7 L171.2,52.0 L189.6,52.0 L189.6,55.1 L212.5,55.1 L212.5,59.6 L245.7,59.6" fill="none" stroke="#a81c42" stroke-width="1.5" stroke-linejoin="miter"/>
<line x1="98.5" y1="42.1" x2="98.5" y2="44.699999999999996" stroke="#a81c42" stroke-width="0.9"/>
<line x1="106" y1="42.1" x2="106" y2="44.699999999999996" stroke="#a81c42" stroke-width="0.9"/>
<line x1="114.6" y1="42.1" x2="114.6" y2="44.699999999999996" stroke="#a81c42" stroke-width="0.9"/>
<line x1="117.7" y1="42.1" x2="117.7" y2="44.699999999999996" stroke="#a81c42" stroke-width="0.9"/>
<line x1="120" y1="42.1" x2="120" y2="44.699999999999996" stroke="#a81c42" stroke-width="0.9"/>
<line x1="122.3" y1="42.1" x2="122.3" y2="44.699999999999996" stroke="#a81c42" stroke-width="0.9"/>
<line x1="125.4" y1="42.1" x2="125.4" y2="44.699999999999996" stroke="#a81c42" stroke-width="0.9"/>
<line x1="127.7" y1="42.1" x2="127.7" y2="44.699999999999996" stroke="#a81c42" stroke-width="0.9"/>
<line x1="132" y1="42.1" x2="132" y2="44.699999999999996" stroke="#a81c42" stroke-width="0.9"/>
<line x1="135.8" y1="42.1" x2="135.8" y2="44.699999999999996" stroke="#a81c42" stroke-width="0.9"/>
<line x1="145" y1="43.300000000000004" x2="145" y2="45.9" stroke="#a81c42" stroke-width="0.9"/>
<line x1="150.4" y1="43.300000000000004" x2="150.4" y2="45.9" stroke="#a81c42" stroke-width="0.9"/>
<line x1="156.5" y1="43.300000000000004" x2="156.5" y2="45.9" stroke="#a81c42" stroke-width="0.9"/>
<line x1="178" y1="50.7" x2="178" y2="53.3" stroke="#a81c42" stroke-width="0.9"/>
<line x1="180.4" y1="50.7" x2="180.4" y2="53.3" stroke="#a81c42" stroke-width="0.9"/>
<line x1="205.4" y1="53.800000000000004" x2="205.4" y2="56.4" stroke="#a81c42" stroke-width="0.9"/>
<line x1="207.7" y1="53.800000000000004" x2="207.7" y2="56.4" stroke="#a81c42" stroke-width="0.9"/>
<line x1="226" y1="58.300000000000004" x2="226" y2="60.9" stroke="#a81c42" stroke-width="0.9"/>
<line x1="230.8" y1="58.300000000000004" x2="230.8" y2="60.9" stroke="#a81c42" stroke-width="0.9"/>
<line x1="234.2" y1="58.300000000000004" x2="234.2" y2="60.9" stroke="#a81c42" stroke-width="0.9"/>
<path d="M311.5,26.2 L314.2,29.2 L316.5,36.9 L318.8,42.3 L321.2,49.2 L322.7,50.8 L328.0,52.6 L335.8,55.7 L340.4,56.6 L342.0,58.2 L351.2,59.2 L362.0,60.8 L377.3,60.8 L380.4,61.5 L397.5,61.5 L397.5,62.4 L412.3,62.4 L415.7,65.9 L435.8,65.9 L440.0,69.2 L443.1,69.2 L445.0,71.4 L457.3,71.4 L457.3,73.4 L475.7,73.4 L475.7,76.1 L502.6,76.1" fill="none" stroke="#a81c42" stroke-width="1.5" stroke-linejoin="miter"/>
<line x1="371.5" y1="59.5" x2="371.5" y2="62.099999999999994" stroke="#a81c42" stroke-width="0.9"/>
<line x1="382.7" y1="60.2" x2="382.7" y2="62.8" stroke="#a81c42" stroke-width="0.9"/>
<line x1="394.1" y1="60.2" x2="394.1" y2="62.8" stroke="#a81c42" stroke-width="0.9"/>
<line x1="402.2" y1="61.1" x2="402.2" y2="63.699999999999996" stroke="#a81c42" stroke-width="0.9"/>
<line x1="404.9" y1="61.1" x2="404.9" y2="63.699999999999996" stroke="#a81c42" stroke-width="0.9"/>
<line x1="406.9" y1="61.1" x2="406.9" y2="63.699999999999996" stroke="#a81c42" stroke-width="0.9"/>
<line x1="430.5" y1="64.60000000000001" x2="430.5" y2="67.2" stroke="#a81c42" stroke-width="0.9"/>
<line x1="477" y1="74.8" x2="477" y2="77.39999999999999" stroke="#a81c42" stroke-width="0.9"/>
<line x1="491.1" y1="74.8" x2="491.1" y2="77.39999999999999" stroke="#a81c42" stroke-width="0.9"/>
<line x1="501.9" y1="74.8" x2="501.9" y2="77.39999999999999" stroke="#a81c42" stroke-width="0.9"/>
<path d="M53.8,182.7 L55.5,184.5 L57.5,187.0 L60.0,188.3 L64.0,190.0 L67.3,193.5 L69.6,195.8 L73.0,197.5 L78.3,197.8 L81.1,199.8 L84.0,202.9 L157.3,202.9 L157.3,205.9 L161.3,205.9 L161.3,209.2 L167.4,209.2 L167.4,213.3 L171.4,213.3 L171.4,216.9 L190.4,216.9 L190.4,222.0 L244.9,222.0" fill="none" stroke="#2c5a8a" stroke-width="1.5" stroke-linejoin="miter"/>
<line x1="96.2" y1="201.6" x2="96.2" y2="204.20000000000002" stroke="#2c5a8a" stroke-width="0.9"/>
<line x1="117.7" y1="201.6" x2="117.7" y2="204.20000000000002" stroke="#2c5a8a" stroke-width="0.9"/>
<line x1="120" y1="201.6" x2="120" y2="204.20000000000002" stroke="#2c5a8a" stroke-width="0.9"/>
<line x1="123.8" y1="201.6" x2="123.8" y2="204.20000000000002" stroke="#2c5a8a" stroke-width="0.9"/>
<line x1="128.5" y1="201.6" x2="128.5" y2="204.20000000000002" stroke="#2c5a8a" stroke-width="0.9"/>
<line x1="132" y1="201.6" x2="132" y2="204.20000000000002" stroke="#2c5a8a" stroke-width="0.9"/>
<line x1="138" y1="201.6" x2="138" y2="204.20000000000002" stroke="#2c5a8a" stroke-width="0.9"/>
<line x1="143" y1="201.6" x2="143" y2="204.20000000000002" stroke="#2c5a8a" stroke-width="0.9"/>
<line x1="145" y1="201.6" x2="145" y2="204.20000000000002" stroke="#2c5a8a" stroke-width="0.9"/>
<line x1="150" y1="201.6" x2="150" y2="204.20000000000002" stroke="#2c5a8a" stroke-width="0.9"/>
<line x1="155" y1="201.6" x2="155" y2="204.20000000000002" stroke="#2c5a8a" stroke-width="0.9"/>
<line x1="206" y1="220.7" x2="206" y2="223.3" stroke="#2c5a8a" stroke-width="0.9"/>
<line x1="208" y1="220.7" x2="208" y2="223.3" stroke="#2c5a8a" stroke-width="0.9"/>
<line x1="228" y1="220.7" x2="228" y2="223.3" stroke="#2c5a8a" stroke-width="0.9"/>
<line x1="232" y1="220.7" x2="232" y2="223.3" stroke="#2c5a8a" stroke-width="0.9"/>
<line x1="244" y1="220.7" x2="244" y2="223.3" stroke="#2c5a8a" stroke-width="0.9"/>
<path d="M311.9,182.7 L316.5,191.9 L318.8,200.4 L321.2,206.5 L325.0,208.1 L329.6,209.2 L333.5,213.8 L341.2,214.7 L342.0,217.3 L357.3,217.3 L361.9,219.2 L377.3,219.2 L378.8,220.4 L436.5,220.4 L439.2,225.0 L503.3,225.0" fill="none" stroke="#2c5a8a" stroke-width="1.5" stroke-linejoin="miter"/>
<line x1="402.5" y1="219.1" x2="402.5" y2="221.70000000000002" stroke="#2c5a8a" stroke-width="0.9"/>
<line x1="430" y1="219.1" x2="430" y2="221.70000000000002" stroke="#2c5a8a" stroke-width="0.9"/>
<line x1="453.5" y1="223.7" x2="453.5" y2="226.3" stroke="#2c5a8a" stroke-width="0.9"/>
<line x1="466.2" y1="223.7" x2="466.2" y2="226.3" stroke="#2c5a8a" stroke-width="0.9"/>
<line x1="477.7" y1="223.7" x2="477.7" y2="226.3" stroke="#2c5a8a" stroke-width="0.9"/>
<line x1="491.1" y1="223.7" x2="491.1" y2="226.3" stroke="#2c5a8a" stroke-width="0.9"/>
<line x1="502.6" y1="223.7" x2="502.6" y2="226.3" stroke="#2c5a8a" stroke-width="0.9"/>
<path d="M56.2,351.2 L60.0,351.2 L65.4,354.5 L71.5,355.5 L75.4,357.3 L80.8,358.8 L88.5,359.6 L90.0,360.4 L97.8,361.8 L141.9,361.8 L143.6,363.0 L149.7,363.0 L151.4,364.2 L158.3,364.2 L161.8,366.4 L164.4,366.4 L166.1,368.2 L180.0,368.2 L180.0,371.1 L189.2,371.1 L189.2,374.6 L243.5,374.6 L243.5,383.4" fill="none" stroke="#a81c42" stroke-width="1.5" stroke-linejoin="miter"/>
<line x1="97.8" y1="360.5" x2="97.8" y2="363.1" stroke="#a81c42" stroke-width="0.9"/>
<line x1="106.4" y1="360.5" x2="106.4" y2="363.1" stroke="#a81c42" stroke-width="0.9"/>
<line x1="111.6" y1="360.5" x2="111.6" y2="363.1" stroke="#a81c42" stroke-width="0.9"/>
<line x1="117.7" y1="360.5" x2="117.7" y2="363.1" stroke="#a81c42" stroke-width="0.9"/>
<line x1="118.5" y1="360.5" x2="118.5" y2="363.1" stroke="#a81c42" stroke-width="0.9"/>
<line x1="120.3" y1="360.5" x2="120.3" y2="363.1" stroke="#a81c42" stroke-width="0.9"/>
<line x1="122" y1="360.5" x2="122" y2="363.1" stroke="#a81c42" stroke-width="0.9"/>
<line x1="124.6" y1="360.5" x2="124.6" y2="363.1" stroke="#a81c42" stroke-width="0.9"/>
<line x1="128" y1="360.5" x2="128" y2="363.1" stroke="#a81c42" stroke-width="0.9"/>
<line x1="131.5" y1="360.5" x2="131.5" y2="363.1" stroke="#a81c42" stroke-width="0.9"/>
<line x1="134.1" y1="360.5" x2="134.1" y2="363.1" stroke="#a81c42" stroke-width="0.9"/>
<line x1="136.7" y1="360.5" x2="136.7" y2="363.1" stroke="#a81c42" stroke-width="0.9"/>
<line x1="139.3" y1="360.5" x2="139.3" y2="363.1" stroke="#a81c42" stroke-width="0.9"/>
<line x1="150.6" y1="362.33529411764704" x2="150.6" y2="364.93529411764706" stroke="#a81c42" stroke-width="0.9"/>
<line x1="159.2" y1="363.4657142857142" x2="159.2" y2="366.06571428571425" stroke="#a81c42" stroke-width="0.9"/>
<line x1="173" y1="366.9" x2="173" y2="369.5" stroke="#a81c42" stroke-width="0.9"/>
<line x1="175.4" y1="366.9" x2="175.4" y2="369.5" stroke="#a81c42" stroke-width="0.9"/>
<line x1="177.7" y1="366.9" x2="177.7" y2="369.5" stroke="#a81c42" stroke-width="0.9"/>
<line x1="196.9" y1="373.3" x2="196.9" y2="375.90000000000003" stroke="#a81c42" stroke-width="0.9"/>
<line x1="203.8" y1="373.3" x2="203.8" y2="375.90000000000003" stroke="#a81c42" stroke-width="0.9"/>
<line x1="205.7" y1="373.3" x2="205.7" y2="375.90000000000003" stroke="#a81c42" stroke-width="0.9"/>
<line x1="207.7" y1="373.3" x2="207.7" y2="375.90000000000003" stroke="#a81c42" stroke-width="0.9"/>
<line x1="212.3" y1="373.3" x2="212.3" y2="375.90000000000003" stroke="#a81c42" stroke-width="0.9"/>
<line x1="224.6" y1="373.3" x2="224.6" y2="375.90000000000003" stroke="#a81c42" stroke-width="0.9"/>
<line x1="229.2" y1="373.3" x2="229.2" y2="375.90000000000003" stroke="#a81c42" stroke-width="0.9"/>
<line x1="230.8" y1="373.3" x2="230.8" y2="375.90000000000003" stroke="#a81c42" stroke-width="0.9"/>
<line x1="232.3" y1="373.3" x2="232.3" y2="375.90000000000003" stroke="#a81c42" stroke-width="0.9"/>
<line x1="234.6" y1="373.3" x2="234.6" y2="375.90000000000003" stroke="#a81c42" stroke-width="0.9"/>
<path d="M311.2,351.2 L315.0,351.2 L318.1,353.5 L320.4,359.6 L323.5,364.2 L326.5,367.8 L331.9,369.9 L335.0,372.7 L339.6,373.9 L349.6,375.0 L358.8,376.2 L377.3,376.5 L380.4,377.6 L397.5,377.6 L397.5,378.5 L412.3,378.5 L415.7,381.4 L429.8,381.4 L429.8,382.2 L435.9,382.2 L435.9,385.9 L443.3,385.9 L443.3,387.6 L456.8,387.6 L456.8,389.1 L475.0,389.1 L475.0,391.8 L502.6,391.8" fill="none" stroke="#a81c42" stroke-width="1.5" stroke-linejoin="miter"/>
<path d="M53.1,508.9 L57.7,508.9 L59.0,510.5 L62.0,512.5 L71.5,512.8 L73.5,514.6 L76.0,516.0 L83.0,517.0 L86.0,519.0 L96.0,519.6 L141.8,519.6 L141.8,521.8 L162.0,521.8 L162.0,525.2 L167.4,525.2 L167.4,529.2 L190.4,529.2 L190.4,534.9 L246.2,534.9 L246.2,551.1" fill="none" stroke="#2c5a8a" stroke-width="1.5" stroke-linejoin="miter"/>
<path d="M311.2,507.7 L313.5,507.7 L315.0,510.0 L318.1,510.5 L320.4,516.2 L323.5,520.0 L325.8,522.8 L327.3,526.9 L331.9,529.2 L335.8,532.6 L360.4,532.6 L362.0,533.8 L377.3,533.8 L378.8,535.7 L431.1,535.7 L431.1,538.2 L436.5,538.2 L436.5,542.5 L502.2,542.5" fill="none" stroke="#2c5a8a" stroke-width="1.5" stroke-linejoin="miter"/>
<line x1="453.5" y1="541.2" x2="453.5" y2="543.8" stroke="#2c5a8a" stroke-width="0.9"/>
<line x1="465.6" y1="541.2" x2="465.6" y2="543.8" stroke="#2c5a8a" stroke-width="0.9"/>
<line x1="477.7" y1="541.2" x2="477.7" y2="543.8" stroke="#2c5a8a" stroke-width="0.9"/>
<line x1="491" y1="541.2" x2="491" y2="543.8" stroke="#2c5a8a" stroke-width="0.9"/>
<line x1="501.9" y1="541.2" x2="501.9" y2="543.8" stroke="#2c5a8a" stroke-width="0.9"/>
<path d="M53.8,182.7 L59.2,182.7 L62.0,186.0 L66.0,190.0 L68.0,191.9 L86.9,191.9 L89.8,194.6 L96.2,196.1 L137.8,196.1 L137.8,198.9 L213.3,198.9 L213.3,208.8 L244.9,208.8" fill="none" stroke="#f0a43a" stroke-width="1.5" stroke-linejoin="miter"/>
<path d="M311.9,182.7 L316.5,191.9 L318.8,200.4 L321.2,206.5 L325.0,208.1 L329.6,209.2 L335.8,211.2 L341.9,213.2 L351.2,213.8 L358.8,216.2 L397.5,216.2 L397.5,217.8 L412.3,217.8 L414.3,221.8 L415.7,224.9 L438.5,224.9 L441.2,227.6 L443.3,229.9 L444.7,232.4 L457.5,232.4 L457.5,238.1 L475.7,238.1 L475.7,245.3 L503.3,245.3" fill="none" stroke="#f0a43a" stroke-width="1.5" stroke-linejoin="miter"/>
<path d="M53.1,508.9 L57.7,508.9 L61.0,509.5 L63.5,512.6 L72.0,512.8 L80.0,513.6 L82.0,516.6 L95.0,517.3 L97.0,519.0 L151.2,519.0 L151.2,522.2 L180.9,522.2 L180.9,528.9 L246.9,528.9" fill="none" stroke="#f0a43a" stroke-width="1.5" stroke-linejoin="miter"/>
<path d="M311.2,507.7 L313.5,507.7 L315.0,510.0 L318.1,510.5 L320.4,516.2 L323.5,520.0 L325.8,522.8 L329.6,523.8 L335.0,525.8 L338.1,528.5 L345.0,530.0 L351.2,532.5 L398.8,532.5 L398.8,534.4 L413.6,534.4 L415.3,540.2 L437.2,540.2 L437.2,542.6 L443.4,542.6 L443.4,545.5 L457.5,545.5 L457.5,549.9 L475.7,549.9 L475.7,555.3 L503.3,555.3" fill="none" stroke="#f0a43a" stroke-width="1.5" stroke-linejoin="miter"/>
<path d="M311.9,182.7 L316.5,191.9 L318.8,200.4 L321.2,206.5 L325.0,208.1 L329.6,209.2" fill="none" stroke="#3a4a50" stroke-width="1.0" stroke-linejoin="miter"/>
<path d="M311.2,507.7 L313.5,507.7 L315.0,510.0 L318.1,510.5 L320.4,516.2 L323.5,520.0 L325.8,522.8" fill="none" stroke="#3a4a50" stroke-width="1.0" stroke-linejoin="miter"/>
</svg></body></html>
